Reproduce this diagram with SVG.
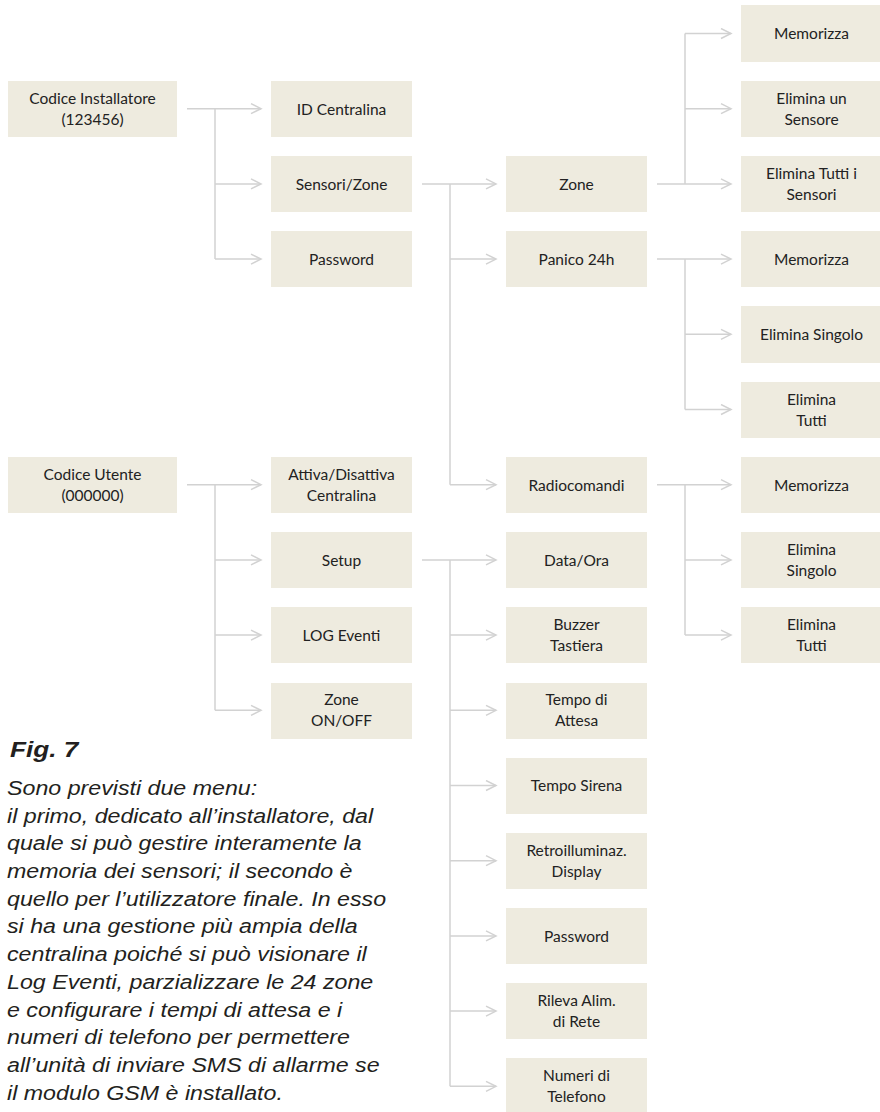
<svg xmlns="http://www.w3.org/2000/svg" width="880" height="1112" viewBox="0 0 880 1112">
<style>
.box{fill:#eeebdf}
.lbl{font-family:Lato,"Liberation Sans",sans-serif;font-size:15.5px;fill:#222;text-anchor:middle}
.ln{fill:none;stroke:#d2d2d2;stroke-width:1.5}
.arr{fill:none;stroke:#d2d2d2;stroke-width:1.5;marker-end:url(#ah)}
.cap{font-family:"Liberation Sans",Arial,sans-serif;font-style:italic;fill:#231f20}
</style>
<defs>
<marker id="ah" markerUnits="userSpaceOnUse" markerWidth="14" markerHeight="14" refX="11" refY="6" orient="auto">
<path d="M1,1 L11,6 L1,11" fill="none" stroke="#d2d2d2" stroke-width="1.5"/>
</marker>
</defs>
<rect width="880" height="1112" fill="#fff"/>
<g id="connectors">
<path class="arr" d="M187,108.7 H261"/>
<path class="ln" d="M215,108.7 V259.1"/>
<path class="arr" d="M215,183.9 H261"/>
<path class="arr" d="M215,259.1 H261"/>
<path class="arr" d="M187,484.7 H261"/>
<path class="ln" d="M215,484.7 V710.3"/>
<path class="arr" d="M215,559.9 H261"/>
<path class="arr" d="M215,635.1 H261"/>
<path class="arr" d="M215,710.3 H261"/>
<path class="arr" d="M422,183.9 H496"/>
<path class="ln" d="M450,183.9 V484.7"/>
<path class="arr" d="M450,259.1 H496"/>
<path class="arr" d="M450,484.7 H496"/>
<path class="arr" d="M422,559.9 H496"/>
<path class="ln" d="M450,559.9 V1086.3"/>
<path class="arr" d="M450,635.1 H496"/>
<path class="arr" d="M450,710.3 H496"/>
<path class="arr" d="M450,785.5 H496"/>
<path class="arr" d="M450,860.7 H496"/>
<path class="arr" d="M450,935.9 H496"/>
<path class="arr" d="M450,1011.1 H496"/>
<path class="arr" d="M450,1086.3 H496"/>
<path class="arr" d="M657,183.9 H731"/>
<path class="ln" d="M685,33.5 V183.9"/>
<path class="arr" d="M685,33.5 H731"/>
<path class="arr" d="M685,108.7 H731"/>
<path class="arr" d="M657,259.1 H731"/>
<path class="ln" d="M685,259.1 V409.5"/>
<path class="arr" d="M685,334.3 H731"/>
<path class="arr" d="M685,409.5 H731"/>
<path class="arr" d="M657,484.7 H731"/>
<path class="ln" d="M685,484.7 V635.1"/>
<path class="arr" d="M685,559.9 H731"/>
<path class="arr" d="M685,635.1 H731"/>
</g>
<g id="n-inst"><rect class="box" x="8" y="81" width="169" height="56"/><text class="lbl" x="92.5" y="104">Codice Installatore</text><text class="lbl" x="92.5" y="125">(123456)</text></g>
<g id="n-utente"><rect class="box" x="8" y="457" width="169" height="56"/><text class="lbl" x="92.5" y="480">Codice Utente</text><text class="lbl" x="92.5" y="501">(000000)</text></g>
<g id="n-id"><rect class="box" x="271" y="81" width="141" height="56"/><text class="lbl" x="341.5" y="114.5">ID Centralina</text></g>
<g id="n-sensori"><rect class="box" x="271" y="156" width="141" height="56"/><text class="lbl" x="341.5" y="189.5">Sensori/Zone</text></g>
<g id="n-pass1"><rect class="box" x="271" y="231" width="141" height="56"/><text class="lbl" x="341.5" y="264.5">Password</text></g>
<g id="n-attiva"><rect class="box" x="271" y="457" width="141" height="56"/><text class="lbl" x="341.5" y="480">Attiva/Disattiva</text><text class="lbl" x="341.5" y="501">Centralina</text></g>
<g id="n-setup"><rect class="box" x="271" y="532" width="141" height="56"/><text class="lbl" x="341.5" y="565.5">Setup</text></g>
<g id="n-log"><rect class="box" x="271" y="607" width="141" height="56"/><text class="lbl" x="341.5" y="640.5">LOG Eventi</text></g>
<g id="n-zoneonoff"><rect class="box" x="271" y="683" width="141" height="56"/><text class="lbl" x="341.5" y="705">Zone</text><text class="lbl" x="341.5" y="726">ON/OFF</text></g>
<g id="n-zone"><rect class="box" x="506" y="156" width="141" height="56"/><text class="lbl" x="576.5" y="189.5">Zone</text></g>
<g id="n-panico"><rect class="box" x="506" y="231" width="141" height="56"/><text class="lbl" x="576.5" y="264.5">Panico 24h</text></g>
<g id="n-radio"><rect class="box" x="506" y="457" width="141" height="56"/><text class="lbl" x="576.5" y="490.5">Radiocomandi</text></g>
<g id="n-data"><rect class="box" x="506" y="532" width="141" height="56"/><text class="lbl" x="576.5" y="565.5">Data/Ora</text></g>
<g id="n-buzzer"><rect class="box" x="506" y="607" width="141" height="56"/><text class="lbl" x="576.5" y="630">Buzzer</text><text class="lbl" x="576.5" y="651">Tastiera</text></g>
<g id="n-attesa"><rect class="box" x="506" y="683" width="141" height="56"/><text class="lbl" x="576.5" y="705">Tempo di</text><text class="lbl" x="576.5" y="726">Attesa</text></g>
<g id="n-sirena"><rect class="box" x="506" y="758" width="141" height="56"/><text class="lbl" x="576.5" y="791">Tempo Sirena</text></g>
<g id="n-retro"><rect class="box" x="506" y="833" width="141" height="56"/><text class="lbl" x="576.5" y="856">Retroilluminaz.</text><text class="lbl" x="576.5" y="877">Display</text></g>
<g id="n-pass2"><rect class="box" x="506" y="908" width="141" height="56"/><text class="lbl" x="576.5" y="941.5">Password</text></g>
<g id="n-rileva"><rect class="box" x="506" y="983" width="141" height="56"/><text class="lbl" x="576.5" y="1006">Rileva Alim.</text><text class="lbl" x="576.5" y="1027">di Rete</text></g>
<g id="n-numeri"><rect class="box" x="506" y="1058" width="141" height="56"/><text class="lbl" x="576.5" y="1081">Numeri di</text><text class="lbl" x="576.5" y="1102">Telefono</text></g>
<g id="n-mem1"><rect class="box" x="741" y="5" width="141" height="57"/><text class="lbl" x="811.5" y="39">Memorizza</text></g>
<g id="n-elun"><rect class="box" x="741" y="81" width="141" height="56"/><text class="lbl" x="811.5" y="104">Elimina un</text><text class="lbl" x="811.5" y="125">Sensore</text></g>
<g id="n-eltutti1"><rect class="box" x="741" y="156" width="141" height="56"/><text class="lbl" x="811.5" y="179">Elimina Tutti i</text><text class="lbl" x="811.5" y="200">Sensori</text></g>
<g id="n-mem2"><rect class="box" x="741" y="231" width="141" height="56"/><text class="lbl" x="811.5" y="264.5">Memorizza</text></g>
<g id="n-elsing1"><rect class="box" x="741" y="306" width="141" height="57"/><text class="lbl" x="811.5" y="340">Elimina Singolo</text></g>
<g id="n-eltutti2"><rect class="box" x="741" y="382" width="141" height="56"/><text class="lbl" x="811.5" y="405">Elimina</text><text class="lbl" x="811.5" y="426">Tutti</text></g>
<g id="n-mem3"><rect class="box" x="741" y="457" width="141" height="56"/><text class="lbl" x="811.5" y="490.5">Memorizza</text></g>
<g id="n-elsing2"><rect class="box" x="741" y="532" width="141" height="56"/><text class="lbl" x="811.5" y="555">Elimina</text><text class="lbl" x="811.5" y="576">Singolo</text></g>
<g id="n-eltutti3"><rect class="box" x="741" y="607" width="141" height="56"/><text class="lbl" x="811.5" y="630">Elimina</text><text class="lbl" x="811.5" y="651">Tutti</text></g>
<g id="caption" transform="scale(1.19,1)">
<text class="cap" x="8.4" y="757" font-size="22" font-weight="bold">Fig. 7</text>
<text class="cap" font-size="19.5">
<tspan x="5.9" y="795">Sono previsti due menu:</tspan>
<tspan x="5.9" y="822.7">il primo, dedicato all’installatore, dal</tspan>
<tspan x="5.9" y="850.4">quale si può gestire interamente la</tspan>
<tspan x="5.9" y="878.1">memoria dei sensori; il secondo è</tspan>
<tspan x="5.9" y="905.8">quello per l’utilizzatore finale. In esso</tspan>
<tspan x="5.9" y="933.5">si ha una gestione più ampia della</tspan>
<tspan x="5.9" y="961.2">centralina poiché si può visionare il</tspan>
<tspan x="5.9" y="988.9">Log Eventi, parzializzare le 24 zone</tspan>
<tspan x="5.9" y="1016.6">e configurare i tempi di attesa e i</tspan>
<tspan x="5.9" y="1044.3">numeri di telefono per permettere</tspan>
<tspan x="5.9" y="1072">all’unità di inviare SMS di allarme se</tspan>
<tspan x="5.9" y="1099.7">il modulo GSM è installato.</tspan>
</text>
</g>
</svg>
